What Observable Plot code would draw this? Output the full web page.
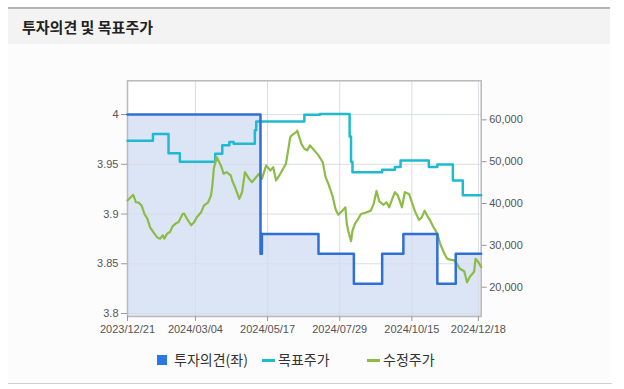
<!DOCTYPE html>
<html><head><meta charset="utf-8">
<script src="https://cdn.jsdelivr.net/npm/d3@7"></script>
<script src="https://cdn.jsdelivr.net/npm/@observablehq/plot@0.6"></script>
<style>
html,body{margin:0;padding:0;background:#fff;}
#wrap{position:relative;width:624px;height:389px;overflow:hidden;background:#fff;font-family:"Noto Sans CJK KR","Noto Sans",sans-serif;}
#topline{position:absolute;left:8px;top:7px;width:602px;height:2px;background:#b4b4b4;}
#head{position:absolute;left:8px;top:9px;width:602px;height:35px;background:#f3f3f3;}
#title{position:absolute;left:22px;top:16px;font-size:15px;font-weight:700;color:#222;line-height:22px;}
#body{position:absolute;left:8px;top:44px;width:602px;height:339px;background:#fcfcfc;}
#botline{position:absolute;left:8px;top:383px;width:604px;height:1px;background:#cfcfcf;}
#chart{position:absolute;left:0;top:44px;}
.lg{position:absolute;font-size:14px;color:#333;line-height:18px;top:350px;}
.sw{position:absolute;}
</style></head>
<body><div id="wrap">
<div id="topline"></div><div id="head"></div><div id="body"></div><div id="botline"></div>
<div id="title">투자의견 및 목표주가</div>
<div id="chart"></div>
<div class="sw" style="left:157px;top:355px;width:10px;height:10px;background:#2a78e0;"></div>
<div class="lg" style="left:174px;">투자의견(좌)</div>
<div class="sw" style="left:262px;top:359px;width:13px;height:3px;background:#1dbad0;"></div>
<div class="lg" style="left:278px;">목표주가</div>
<div class="sw" style="left:367px;top:359px;width:13px;height:3px;background:#8cbc45;"></div>
<div class="lg" style="left:383px;">수정주가</div>
</div>
<script>
// x axis: trading-day index with date labels
const xTickDays = [0, 48, 99, 150, 201, 248];
const xTickLabels = ["2023/12/21","2024/03/04","2024/05/17","2024/07/29","2024/10/15","2024/12/18"];
const leftTicks = [3.8, 3.85, 3.9, 3.95, 4];
const rightTicks = [20000, 30000, 40000, 50000, 60000];

// 투자의견 (left axis)
const opinionDay   = [0, 94, 95, 135, 160, 180, 195, 219, 232, 250];
const opinionValue = [4, 3.86, 3.88, 3.86, 3.83, 3.86, 3.88, 3.83, 3.86, 3.86];

// 목표주가 (right axis)
const targetDay   = [0, 18, 29, 37, 62, 67, 72, 75, 90, 91, 125, 136, 157, 158, 159, 180, 189, 193, 213, 219, 230, 237, 250];
const targetValue = [55000, 56600, 52000, 50000, 51900, 53900, 54700, 54300, 57500, 59600, 61200, 61400, 56000, 50000, 47500, 48100, 48700, 50300, 48700, 49300, 45500, 42000, 42000];

// 수정주가 (right axis)
const priceDay = [0,4,6,8,10,12,14,16,19,21,23,25,26,28,30,32,34,36,39,40,42,45,47,49,52,54,57,59,60,61,63,66,68,70,73,74,76,79,81,83,86,88,90,93,95,98,101,103,105,108,110,112,115,116,119,120,121,123,125,127,129,132,135,138,140,142,145,147,149,152,154,155,156,158,159,161,163,165,168,172,174,176,178,181,183,185,187,189,191,194,196,199,201,203,206,208,210,212,214,216,219,221,224,226,228,231,233,235,238,240,242,245,246,248,250];
const priceValue = [40700,42100,40300,40200,39500,37500,36400,34300,32800,31900,31600,32400,31600,32800,33200,34600,35200,35500,37500,37600,36400,34800,35500,36700,37900,39500,40300,41900,44300,48300,51100,49100,47100,47500,46700,45500,43900,41100,42700,47500,45900,45100,45900,47100,45900,49100,47900,48700,45500,47100,48300,49500,55800,56300,57000,57400,56300,54200,53100,52700,53900,52700,51500,49900,46300,44700,41700,38700,37300,38300,39100,35200,33500,31000,33500,35300,36300,37500,37800,38300,39900,43000,40500,39700,40300,39100,41000,42700,42000,39100,42700,42300,40300,38300,36100,36700,38300,37000,35900,34500,32800,30400,28000,26800,26600,26400,25500,24400,23800,21200,22500,23700,26800,26000,24800];

// Left/right axis relationship
const yMin = 3.797, yMax = 4.0339;
const rA = 4.206e-6, rB = 3.8 + 0.02643 - 20000 * 4.206e-6;
const toLeft = v => rB + v * rA;
const fromLeft = l => (l - rB) / rA;

const opinion = opinionDay.map((d, i) => ({day: d, value: opinionValue[i]}));
const target = targetDay.map((d, i) => ({day: d, value: targetValue[i]}));
const price = priceDay.map((d, i) => ({day: d, value: priceValue[i]}));

const chart = Plot.plot({
  width: 624, height: 300,
  marginLeft: 127, marginRight: 143.3, marginTop: 36.3, marginBottom: 28,
  style: {fontFamily: "'Liberation Sans', Arial, sans-serif", fontSize: "11px", color: "#555", background: "transparent"},
  x: {domain: [0, 250], label: null},
  y: {domain: [yMin, yMax], label: null},
  marks: [
    Plot.frame({fill: "#fff", stroke: "none"}),
    Plot.areaY(opinion, {x: "day", y1: yMin, y2: "value", curve: "step-after", fill: "#dbe5f6"}),
    Plot.gridY(leftTicks, {stroke: "#d9dde4", strokeOpacity: 1}),
    Plot.gridX(xTickDays, {stroke: "#d9dde4", strokeOpacity: 1}),
    Plot.frame({stroke: "#b9b9b9", strokeWidth: 1.5}),
    Plot.axisY(leftTicks, {anchor: "left", label: null, tickSize: 6, tickPadding: 3, stroke: "#999", tickFormat: d => String(+d.toFixed(2)), fill: "#555"}),
    Plot.axisY(rightTicks.map(toLeft), {anchor: "right", label: null, tickSize: 5, tickPadding: 3, stroke: "#999", tickFormat: d => d3.format(",")(Math.round(fromLeft(d) / 1000) * 1000), fill: "#555"}),
    Plot.axisX(xTickDays, {anchor: "bottom", label: null, tickSize: 5, tickPadding: 4, stroke: "#999", tickFormat: d => xTickLabels[xTickDays.indexOf(d)], fill: "#555"}),
    Plot.line(target, {x: "day", y: d => toLeft(d.value), curve: "step-after", stroke: "#1ebbd0", strokeWidth: 2.5}),
    Plot.line(price, {x: "day", y: d => toLeft(d.value), stroke: "#8dbc46", strokeWidth: 2.2}),
    Plot.line(opinion, {x: "day", y: "value", curve: "step-after", stroke: "#2f6fd6", strokeWidth: 2.5})
  ]
});
document.getElementById("chart").appendChild(chart);
</script>
</body></html>
